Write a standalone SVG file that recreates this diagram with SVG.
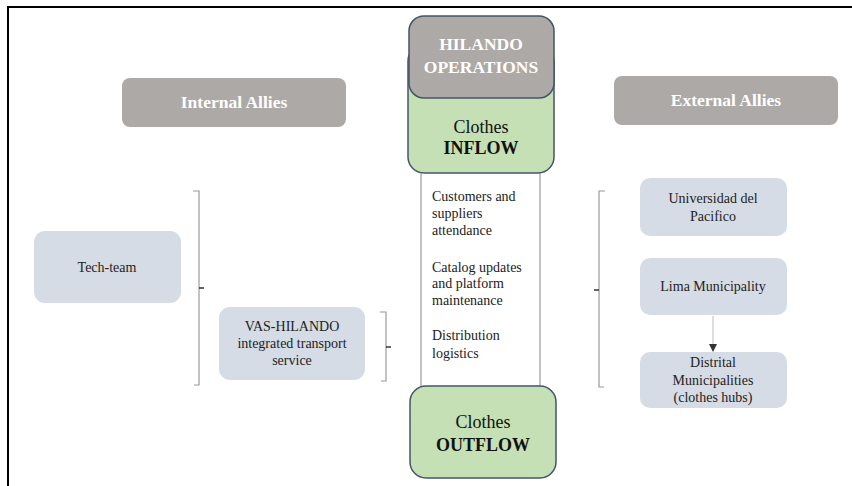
<svg xmlns="http://www.w3.org/2000/svg" width="852" height="486" viewBox="0 0 852 486">
<defs>
<style>
.serif{font-family:"Liberation Serif","Times New Roman",serif;}
.hdr{fill:#ADA9A7;}
.hdrt{font-family:"Liberation Serif","Times New Roman",serif;font-weight:bold;fill:#ffffff;font-size:17.5px;text-anchor:middle;}
.blue{fill:#D6DCE5;}
.green{fill:#C5E0B4;stroke:#44546A;stroke-width:1.5;}
.sm{font-family:"Liberation Serif","Times New Roman",serif;font-size:14px;fill:#222;}
.c{text-anchor:middle;}
.big{font-family:"Liberation Serif","Times New Roman",serif;font-size:18px;fill:#111;text-anchor:middle;}
.br{fill:none;stroke:#9a9a9a;stroke-width:1.2;}
.tick{stroke:#333;stroke-width:1.5;}
</style>
<marker id="ah" markerWidth="8" markerHeight="8" refX="7" refY="4" orient="auto" markerUnits="userSpaceOnUse">
<path d="M0,0 L8,4 L0,8 Z" fill="#333"/>
</marker>
</defs>
<rect width="852" height="486" fill="#ffffff"/>
<g id="frame">
<path d="M8,486 V7 H852" fill="none" stroke="#000" stroke-width="2"/>
</g>
<g id="connectors">
<line x1="421" y1="172" x2="421" y2="387" stroke="#9a9a9a" stroke-width="1.2"/>
<line x1="540" y1="172" x2="540" y2="387" stroke="#9a9a9a" stroke-width="1.2"/>
<path class="br" d="M193,191 H199 V385 H194"/>
<line class="tick" x1="199" y1="288" x2="204" y2="288"/>
<path class="br" d="M380,312 H386 V381 H381"/>
<line class="tick" x1="386" y1="347" x2="391" y2="347"/>
<path class="br" d="M605,191 H599 V387 H604"/>
<line class="tick" x1="599" y1="290" x2="594" y2="290"/>
<line x1="713" y1="316" x2="713" y2="351" stroke="#bbb" stroke-width="1" marker-end="url(#ah)"/>
</g>
<g id="inflow">
<rect class="green" x="408" y="45" width="146" height="128" rx="16"/>
<text class="big" x="481" y="133">Clothes</text>
<text class="big" x="481" y="154" font-weight="bold">INFLOW</text>
</g>
<g id="operations">
<rect x="409" y="16" width="145" height="82" rx="15" fill="#ADA9A7" stroke="#44546A" stroke-width="1.5"/>
<text class="hdrt" x="481" y="50" font-size="18.5">HILANDO</text>
<text class="hdrt" x="481" y="73" font-size="18.5">OPERATIONS</text>
</g>
<g id="activities">
<text class="sm" x="432" y="201">Customers and</text>
<text class="sm" x="432" y="218">suppliers</text>
<text class="sm" x="432" y="235">attendance</text>
<text class="sm" x="432" y="272">Catalog updates</text>
<text class="sm" x="432" y="288">and platform</text>
<text class="sm" x="432" y="305">maintenance</text>
<text class="sm" x="432" y="340">Distribution</text>
<text class="sm" x="432" y="358">logistics</text>
</g>
<g id="outflow">
<rect class="green" x="410" y="386" width="146" height="92" rx="16"/>
<text class="big" x="483" y="428" font-size="19">Clothes</text>
<text class="big" x="483" y="451" font-weight="bold" font-size="19">OUTFLOW</text>
</g>
<g id="internal-allies">
<rect class="hdr" x="122" y="78" width="224" height="49" rx="8"/>
<text class="hdrt" x="234" y="108">Internal Allies</text>
</g>
<g id="external-allies">
<rect class="hdr" x="614" y="76" width="224" height="49" rx="8"/>
<text class="hdrt" x="726" y="106">External Allies</text>
</g>
<g id="tech-team">
<rect class="blue" x="34" y="231" width="147" height="72" rx="11"/>
<text class="sm c" x="107" y="272">Tech-team</text>
</g>
<g id="vas-hilando">
<rect class="blue" x="219" y="307" width="146" height="73" rx="11"/>
<text class="sm c" x="292" y="331">VAS-HILANDO</text>
<text class="sm c" x="292" y="348">integrated transport</text>
<text class="sm c" x="292" y="365">service</text>
</g>
<g id="universidad">
<rect class="blue" x="640" y="178" width="147" height="58" rx="10"/>
<text class="sm c" x="713" y="203">Universidad del</text>
<text class="sm c" x="713" y="221">Pacifico</text>
</g>
<g id="lima">
<rect class="blue" x="640" y="258" width="147" height="57" rx="10"/>
<text class="sm c" x="713" y="291">Lima Municipality</text>
</g>
<g id="distrital">
<rect class="blue" x="640" y="352" width="147" height="56" rx="10"/>
<text class="sm c" x="713" y="367">Distrital</text>
<text class="sm c" x="713" y="385">Municipalities</text>
<text class="sm c" x="713" y="402">(clothes hubs)</text>
</g>
</svg>
